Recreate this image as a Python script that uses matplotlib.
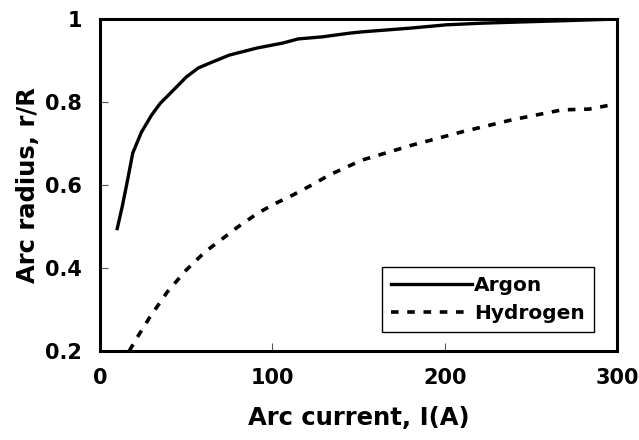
import matplotlib
matplotlib.use('Agg')
import matplotlib.pyplot as plt

# Arc radius vs. arc current for two plasma gases
argon_I = [10, 13, 16, 19, 24, 30, 35, 41, 46, 50, 57, 65, 75, 91, 106, 115,
           129, 145, 152, 180, 201, 222, 245, 270, 300]
argon_r = [0.495, 0.55, 0.612, 0.677, 0.727, 0.769, 0.797, 0.822, 0.843, 0.86,
           0.882, 0.896, 0.913, 0.93, 0.942, 0.952, 0.957, 0.966, 0.969, 0.978,
           0.986, 0.99, 0.993, 0.996, 1.0]

hydrogen_I = [17, 20, 29, 39, 50, 61, 71.5, 80, 91.5, 101, 112, 122, 133, 152,
              181, 210, 239, 268, 284, 299]
hydrogen_r = [0.2, 0.222, 0.282, 0.342, 0.395, 0.439, 0.472, 0.499, 0.532,
              0.554, 0.576, 0.598, 0.624, 0.66, 0.696, 0.728, 0.757, 0.781,
              0.783, 0.795]

x_ticks = [0, 100, 200, 300]
y_ticks = [0.2, 0.4, 0.6, 0.8, 1.0]
y_tick_labels = ['0.2', '0.4', '0.6', '0.8', '1']

plt.rcParams['font.family'] = ['DejaVu Sans']
plt.rcParams['font.weight'] = 'bold'

fig = plt.figure(figsize=(6.39, 4.40), dpi=100)
ax = fig.add_axes([0.1565, 0.2023, 0.8091, 0.7545])

ax.plot(argon_I, argon_r, color='black', linewidth=2.4, label='Argon')
ax.plot(hydrogen_I, hydrogen_r, color='black', linewidth=2.6,
        dashes=(2.1, 2.4), label='Hydrogen')

ax.set_xlim(0, 300)
ax.set_ylim(0.2, 1.0)
ax.set_xticks(x_ticks)
ax.set_xticklabels([str(t) for t in x_ticks])
ax.set_yticks(y_ticks)
ax.set_yticklabels(y_tick_labels)
ax.tick_params(direction='in', length=6, width=0.8, color='#555555',
               labelsize=15)
ax.tick_params(axis='x', pad=12)
ax.tick_params(axis='y', pad=13)
for lbl in ax.get_xticklabels() + ax.get_yticklabels():
    lbl.set_fontweight('bold')

for spine in ax.spines.values():
    spine.set_linewidth(2.2)
    spine.set_color('black')

ax.set_xlabel('Arc current, I(A)', fontsize=17.5, fontweight='bold', labelpad=13)
ax.set_ylabel('Arc radius, r/R', fontsize=17.5, fontweight='bold', labelpad=4)

leg = ax.legend(loc='lower right', bbox_to_anchor=(0.955, 0.057),
                fontsize=14.5, handlelength=4.0, handletextpad=0.1,
                borderpad=0.45, labelspacing=0.45, fancybox=False,
                framealpha=1, edgecolor='black', borderaxespad=0)
leg.get_frame().set_linewidth(1.0)
for t in leg.get_texts():
    t.set_fontweight('bold')

fig.savefig('out.png', dpi=100)
